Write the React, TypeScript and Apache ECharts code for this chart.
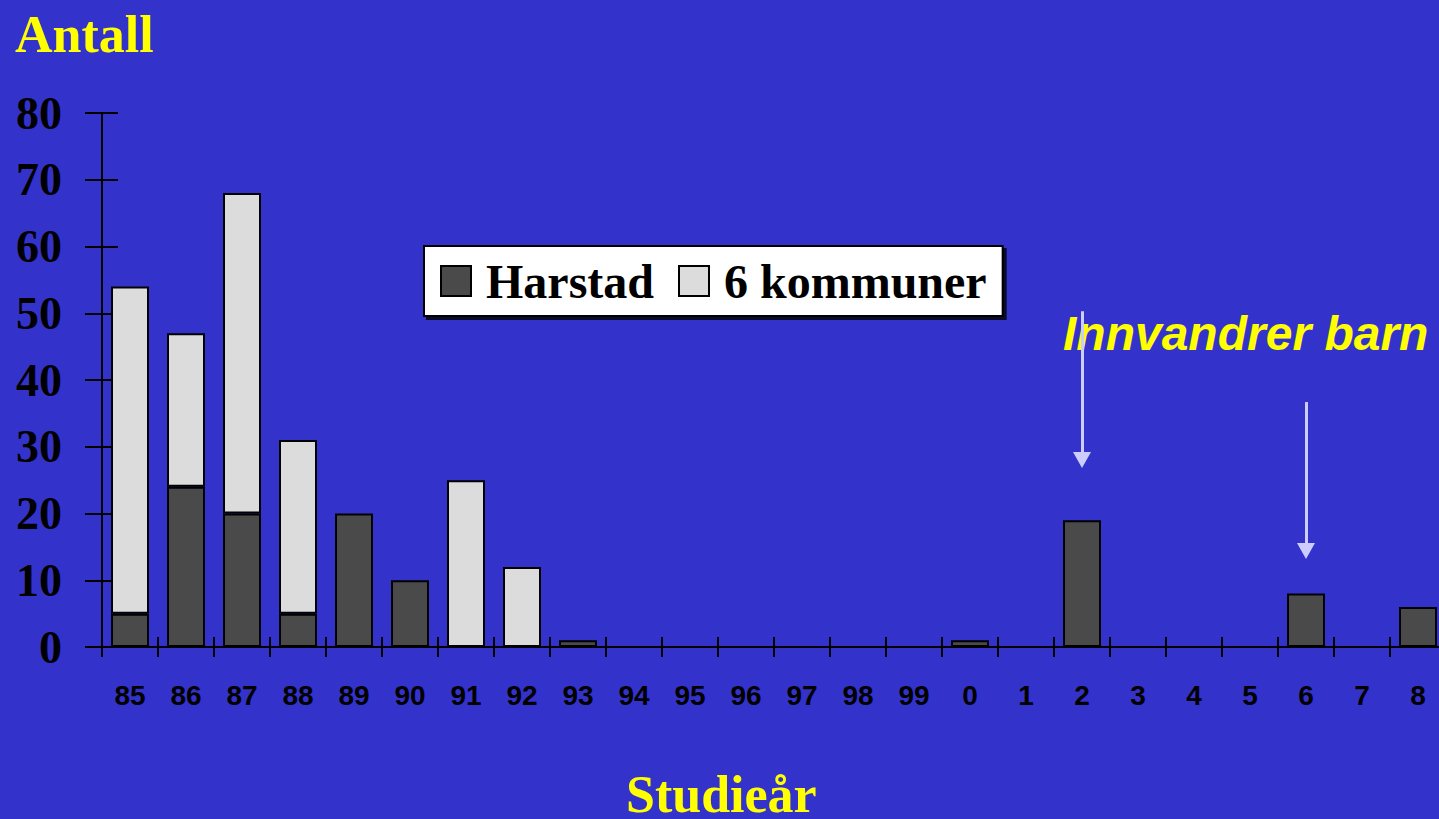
import React, { useEffect, useRef } from "react";
import * as echarts from "echarts";

const categories = ["85","86","87","88","89","90","91","92","93","94","95","96","97","98","99","0","1","2","3","4","5","6","7","8"];
const harstad = [5,24,20,5,20,10,0,0,1,0,0,0,0,0,0,1,0,19,0,0,0,8,0,6];
const kommuner6 = [49,23,48,26,0,0,25,12,0,0,0,0,0,0,0,0,0,0,0,0,0,0,0,0];
const yTicks = { min: 0, max: 80, interval: 10 };
const arrows = [
  { cat: "2", from: 50.3, to: 28 },
  { cat: "6", from: 36.7, to: 14.4 },
];

const SERIF = "'Liberation Serif', 'Times New Roman', serif";
const SANS = "'Liberation Sans', Arial, sans-serif";

export default function App() {
  const ref = useRef<HTMLDivElement>(null);
  useEffect(() => {
    if (!ref.current) return;
    const chart = echarts.init(ref.current, null, { renderer: "svg" });
    const toData = (arr: number[]) => arr.map((v) => (v === 0 ? "-" : v));
    const barStyle = (color: string) => ({ color, borderColor: "#000", borderWidth: 2 });
    chart.setOption({
      animation: false,
      backgroundColor: "#3333cc",
      grid: { left: 102, right: 0, top: 113, bottom: 172, containLabel: false },
      legend: {
        left: 424,
        top: 246,
        orient: "horizontal",
        backgroundColor: "#ffffff",
        borderColor: "#000",
        borderWidth: 2,
        padding: [11, 16, 11, 16],
        itemGap: 24,
        itemWidth: 30,
        itemHeight: 30,
        icon: "rect",
        shadowColor: "rgba(0,0,0,0.8)",
        shadowOffsetX: 3,
        shadowOffsetY: 3,
        shadowBlur: 0,
        textStyle: { fontFamily: SERIF, fontWeight: "bold", fontSize: 48, color: "#000", padding: [0, 0, 0, 10] },
        data: [
          { name: "Harstad", icon: "rect", itemStyle: { color: "#4a4a4a", borderColor: "#000", borderWidth: 2 } },
          { name: "6 kommuner", icon: "rect", itemStyle: { color: "#dcdcdc", borderColor: "#000", borderWidth: 2 } },
        ],
      },
      xAxis: [
        {
          type: "category",
          data: categories,
          position: "bottom",
          axisLine: { show: true, lineStyle: { color: "#000", width: 2 } },
          axisTick: { show: true, inside: false, length: 10, lineStyle: { color: "#000", width: 2 } },
          axisLabel: { color: "#000", fontFamily: SANS, fontWeight: "bold", fontSize: 28, margin: 34 },
        },
        {
          type: "category",
          data: categories,
          position: "bottom",
          axisLine: { show: false },
          axisTick: { show: true, inside: true, length: 10, lineStyle: { color: "#000", width: 2 } },
          axisLabel: { show: false },
        },
      ],
      yAxis: [
        {
          type: "value",
          min: yTicks.min,
          max: yTicks.max,
          interval: yTicks.interval,
          splitLine: { show: false },
          axisLine: { show: true, lineStyle: { color: "#000", width: 2 } },
          axisTick: { show: true, inside: false, length: 17, lineStyle: { color: "#000", width: 2 } },
          axisLabel: { color: "#000", fontFamily: SERIF, fontWeight: "bold", fontSize: 46, margin: 40 },
        },
        {
          type: "value",
          min: yTicks.min,
          max: yTicks.max,
          interval: yTicks.interval,
          position: "left",
          splitLine: { show: false },
          axisLine: { show: false },
          axisTick: { show: true, inside: true, length: 16, lineStyle: { color: "#000", width: 2 } },
          axisLabel: { show: false },
        },
      ],
      series: [
        {
          name: "Harstad",
          type: "bar",
          stack: "total",
          barWidth: 38,
          data: toData(harstad),
          itemStyle: barStyle("#4a4a4a"),
          markLine: {
            silent: true,
            symbol: ["none", "triangle"],
            symbolSize: [18, 16],
            label: { show: false },
            lineStyle: { color: "#ccccff", width: 3, type: "solid" },
            data: arrows.map((a) => [
              { coord: [a.cat, a.from], symbol: "none" },
              { coord: [a.cat, a.to], symbol: "triangle", symbolRotate: 180 },
            ]),
          },
        },
        {
          name: "6 kommuner",
          type: "bar",
          stack: "total",
          barWidth: 38,
          data: toData(kommuner6),
          itemStyle: barStyle("#dcdcdc"),
        },
      ],
      graphic: [
        {
          type: "text",
          left: 15,
          top: 8,
          style: { text: "Antall", fill: "#ffff00", font: `bold 52px ${SERIF}` },
        },
        {
          type: "text",
          left: 626,
          top: 768,
          style: { text: "Studieår", fill: "#ffff00", font: `bold 52px ${SERIF}` },
        },
        {
          type: "text",
          left: 1063,
          top: 309,
          style: { text: "Innvandrer barn", fill: "#ffff00", font: `italic bold 48px ${SANS}` },
        },
      ],
    });
    return () => chart.dispose();
  }, []);
  return (
    <div
      ref={ref}
      style={{ position: "fixed", left: 0, top: 0, width: 1446, height: 819 }}
    />
  );
}
